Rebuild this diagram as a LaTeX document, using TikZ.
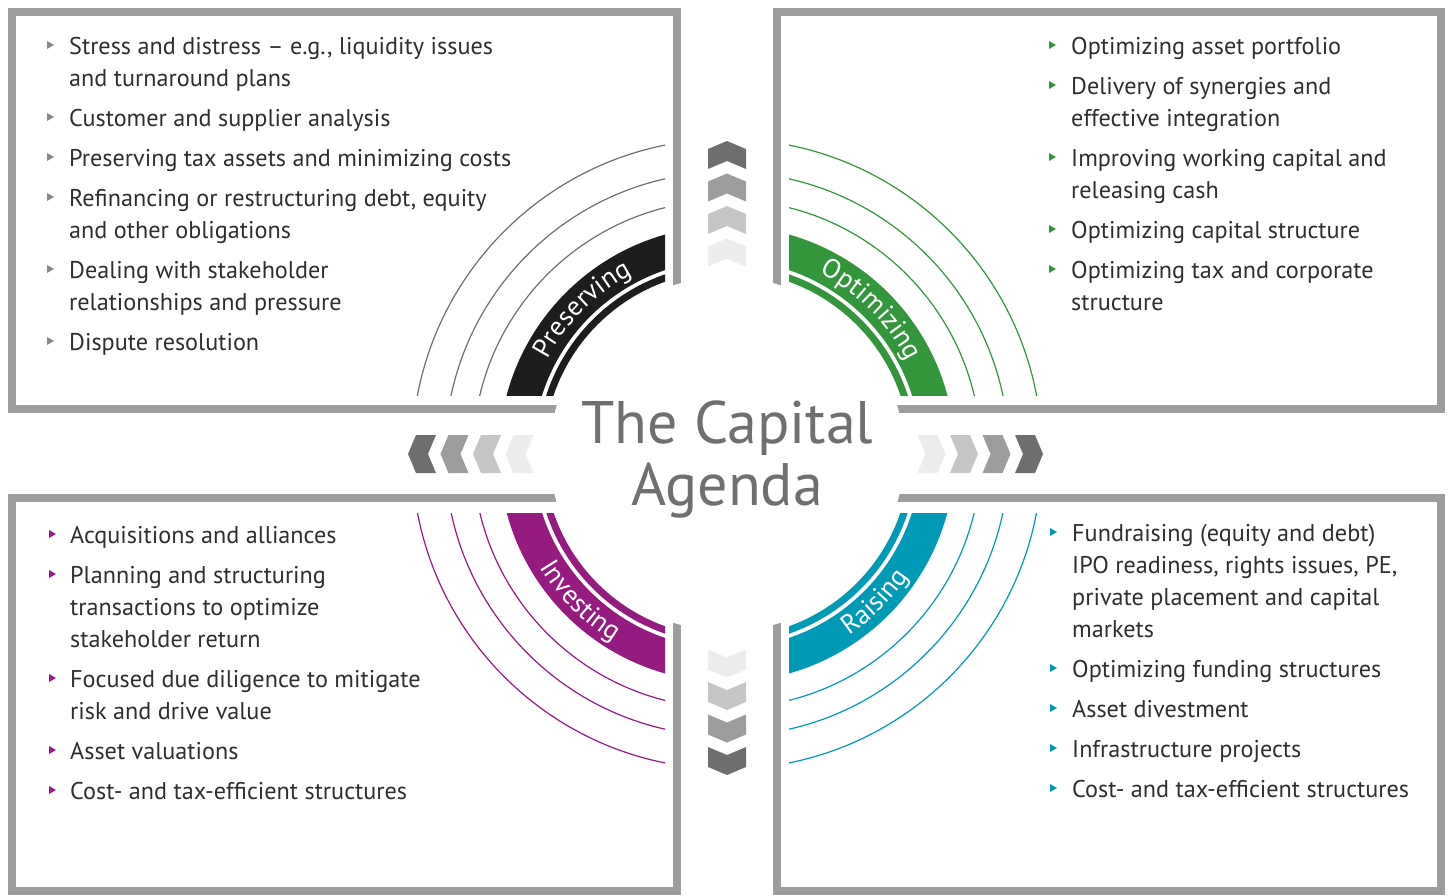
\documentclass[tikz,border=0pt]{standalone}
\usepackage{fontspec}
\setmainfont{PT Sans}
\usetikzlibrary{decorations.text}

\definecolor{framegray}{HTML}{9D9D9C}
\definecolor{bodytext}{HTML}{2E2E2E}
\definecolor{titlegray}{HTML}{6F6F6F}
\definecolor{presblack}{HTML}{1D1D1B}
\definecolor{optgreen}{HTML}{33963A}
\definecolor{invpurple}{HTML}{951B81}
\definecolor{raiseteal}{HTML}{009AB6}
\definecolor{linegray}{HTML}{6F6F6F}
\definecolor{bulletgray}{HTML}{8A8A8A}
\definecolor{chevA}{HTML}{6D6E70}
\definecolor{chevB}{HTML}{9D9D9C}
\definecolor{chevC}{HTML}{C6C6C6}
\definecolor{chevD}{HTML}{EDEDED}

% one line of bullet text, anchored on its baseline
\newcommand\itemline[4]{\node[itemtext] (#1) at (#2,-#3) {#4};}
% small right-pointing bullet triangle centred at (x,y)
\newcommand\bullettri[3]{\fill[#1] (#2,{4-#3}) -- ({#2+7},-#3) -- (#2,{-4-#3}) -- cycle;}
% chevron pointing away from the centre, tip at distance #2
\newcommand\chevron[3]{\fill[#3] (-19,#2-8) -- (0,#2) -- (19,#2-8) -- (19,#2-28) -- (0,#2-20) -- (-19,#2-28) -- cycle;}
\newcommand\bandfont{\fontsize{27}{27}\selectfont}

\begin{document}
\begin{tikzpicture}[x=1pt,y=1pt,
  frame/.style={draw=framegray, line width=8pt},
  thinarc/.style={line width=1.2pt},
  itemtext/.style={anchor=base west, inner sep=0pt, text=bodytext,
    font=\fontsize{24.2}{32}\selectfont},
  titletext/.style={anchor=base, inner sep=0pt, text=titlegray,
    font=\fontsize{60}{62}\selectfont},
  bandtext/.style={decorate, decoration={text along path, text align=center,
    text color=white, text={|\bandfont|#1}}}]
\useasboundingbox (0,0) rectangle (1451,-895);

% the four frames
\draw[frame] (12,-12) rectangle (677,-409);
\draw[frame] (777,-12) rectangle (1441,-409);
\draw[frame] (12,-498) rectangle (677,-891);
\draw[frame] (777,-498) rectangle (1441,-891);
\fill[white] (727,-454) circle (177);

% Preserving quarter
\begin{scope}
  \clip (0,0) rectangle (665,-395);
  \fill[presblack, even odd rule] (727,-454) circle (228) circle (194) circle (190) circle (183);
  \draw[thinarc, linegray] (727,-454) circle (254) circle (282) circle (315);
\end{scope}
\path[bandtext=Preserving] (727,-454) ++(180:203) arc[start angle=180, end angle=90, radius=203];

% Optimizing quarter
\begin{scope}
  \clip (789,0) rectangle (1451,-395);
  \fill[optgreen, even odd rule] (727,-454) circle (228) circle (194) circle (190) circle (183);
  \draw[thinarc, optgreen] (727,-454) circle (254) circle (282) circle (315);
\end{scope}
\path[bandtext=Optimizing] (727,-454) ++(90:203) arc[start angle=90, end angle=0, radius=203];

% Investing quarter
\begin{scope}
  \clip (0,-513) rectangle (665,-895);
  \fill[invpurple, even odd rule] (727,-454) circle (228) circle (194) circle (190) circle (183);
  \draw[thinarc, invpurple] (727,-454) circle (254) circle (282) circle (315);
\end{scope}
\path[bandtext=Investing] (727,-454) ++(180:219) arc[start angle=180, end angle=270, radius=219];

% Raising quarter
\begin{scope}
  \clip (789,-513) rectangle (1451,-895);
  \fill[raiseteal, even odd rule] (727,-454) circle (228) circle (194) circle (190) circle (183);
  \draw[thinarc, raiseteal] (727,-454) circle (254) circle (282) circle (315);
\end{scope}
\path[bandtext=Raising] (727,-454) ++(270:219) arc[start angle=270, end angle=360, radius=219];

% chevrons up and down
\foreach \rot in {0,180}{
  \begin{scope}[shift={(727,-458)}, rotate=\rot]
    \foreach \d/\c in {219.5/chevD, 252/chevC, 284.5/chevB, 317/chevA}{\chevron{\rot}{\d}{\c}}
  \end{scope}}
% chevrons left and right
\foreach \rot in {90,270}{
  \begin{scope}[shift={(725.5,-454)}, rotate=\rot]
    \foreach \d/\c in {220/chevD, 252.5/chevC, 285/chevB, 317.5/chevA}{\chevron{\rot}{\d}{\c}}
  \end{scope}}

% title
\node[titletext] (title1) at (727.5,-443) {The Capital};
\node[titletext] (title2) at (727,-505) {Agenda};

% top left list
\foreach \y in {45,117,157,197,269,341}{\bullettri{bulletgray}{47}{\y}}
\itemline{tl1}{69}{54}{Stress and distress – e.g., liquidity issues}
\itemline{tl1b}{69}{86}{and turnaround plans}
\itemline{tl2}{69}{126}{Customer and supplier analysis}
\itemline{tl3}{69}{166}{Preserving tax assets and minimizing costs}
\itemline{tl4}{69}{206}{Refinancing or restructuring debt, equity}
\itemline{tl4b}{69}{238}{and other obligations}
\itemline{tl5}{69}{278}{Dealing with stakeholder}
\itemline{tl5b}{69}{310}{relationships and pressure}
\itemline{tl6}{69}{350}{Dispute resolution}

% top right list
\foreach \y in {45,85,157,229,269}{\bullettri{optgreen}{1049}{\y}}
\itemline{tr1}{1071}{54}{Optimizing asset portfolio}
\itemline{tr2}{1071}{94}{Delivery of synergies and}
\itemline{tr2b}{1071}{126}{effective integration}
\itemline{tr3}{1071}{166}{Improving working capital and}
\itemline{tr3b}{1071}{198}{releasing cash}
\itemline{tr4}{1071}{238}{Optimizing capital structure}
\itemline{tr5}{1071}{278}{Optimizing tax and corporate}
\itemline{tr5b}{1071}{310}{structure}

% bottom left list
\foreach \y in {534,574,678,750,790}{\bullettri{invpurple}{49}{\y}}
\itemline{bl1}{70}{543}{Acquisitions and alliances}
\itemline{bl2}{70}{583}{Planning and structuring}
\itemline{bl2b}{70}{615}{transactions to optimize}
\itemline{bl2c}{70}{647}{stakeholder return}
\itemline{bl3}{70}{687}{Focused due diligence to mitigate}
\itemline{bl3b}{70}{719}{risk and drive value}
\itemline{bl4}{70}{759}{Asset valuations}
\itemline{bl5}{70}{799}{Cost- and tax-efficient structures}

% bottom right list
\foreach \y in {532,668,708,748,788}{\bullettri{raiseteal}{1050}{\y}}
\itemline{br1}{1072}{541}{Fundraising (equity and debt)}
\itemline{br1b}{1072}{573}{IPO readiness, rights issues, PE,}
\itemline{br1c}{1072}{605}{private placement and capital}
\itemline{br1d}{1072}{637}{markets}
\itemline{br2}{1072}{677}{Optimizing funding structures}
\itemline{br3}{1072}{717}{Asset divestment}
\itemline{br4}{1072}{757}{Infrastructure projects}
\itemline{br5}{1072}{797}{Cost- and tax-efficient structures}
\end{tikzpicture}
\end{document}
